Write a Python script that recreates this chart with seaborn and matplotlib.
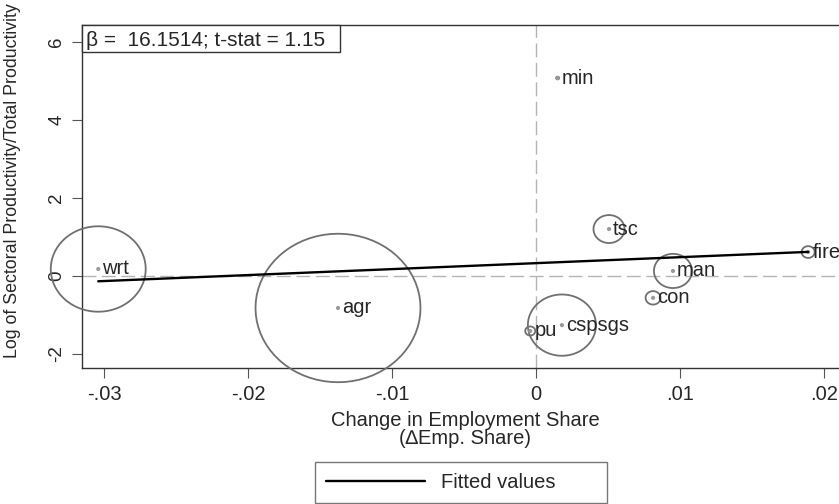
import numpy as np
import pandas as pd
import matplotlib
matplotlib.use("Agg")
import matplotlib.pyplot as plt
from matplotlib.path import Path
from matplotlib.patches import Rectangle
import seaborn as sns

# ---- data ----
sectors = ["wrt", "agr", "min", "tsc", "fire", "man", "con", "cspsgs", "pu"]
d_emp_share = [-0.0304, -0.01375, 0.0015, 0.00507, 0.0189, 0.00951, 0.00813, 0.0018, -0.0004]
log_rel_prod = [0.18, -0.82, 5.08, 1.205, 0.615, 0.13, -0.56, -1.26, -1.41]
emp_weight = [0.206, 0.622, 0.0002, 0.022, 0.0039, 0.033, 0.0051, 0.106, 0.0023]
fit_intercept = 0.33
fit_slope = 15.3
beta_text = "β =  16.1514; t-stat = 1.15"
xticks = [-0.03, -0.02, -0.01, 0.0, 0.01, 0.02]
xticklabels = ["-.03", "-.02", "-.01", "0", ".01", ".02"]
yticks = [-2, 0, 2, 4, 6]
yticklabels = ["-2", "0", "2", "4", "6"]

df = pd.DataFrame({"sector": sectors, "x": d_emp_share, "y": log_rel_prod, "w": emp_weight})
# marker area proportional to weight (largest -> ~165 px wide)
area_scale = (0.72 * 165) ** 2 / max(emp_weight)
df["s"] = df["w"] * area_scale

sns.set_theme(style="white")
plt.rcParams["font.family"] = ["Liberation Sans", "DejaVu Sans"]

FS = 14.5
TXT = "#262626"

fig = plt.figure(figsize=(8.39, 5.04), dpi=100)
W, H = 839, 504
ax_l, ax_r, ax_t, ax_b = 82, 848, 25, 368
ax = fig.add_axes([ax_l / W, 1 - ax_b / H, (ax_r - ax_l) / W, (ax_b - ax_t) / H])

# slightly squashed hollow circle (reference is vertically compressed)
t = np.linspace(0, 2 * np.pi, 73)
ell = Path(np.column_stack([np.cos(t), 0.9 * np.sin(t)]))

ax.axvline(0, color="#b4b4b4", lw=1.0, dashes=(10, 4), zorder=1)
ax.axhline(0, color="#b4b4b4", lw=1.0, dashes=(10, 4), zorder=1)

sns.scatterplot(data=df, x="x", y="y", s=df["s"].values, marker=ell,
                facecolors="none", edgecolor="#707070", linewidth=1.3,
                legend=False, ax=ax, zorder=3, clip_on=False)
sns.scatterplot(data=df, x="x", y="y", s=9, color="#9a9a9a", edgecolor="none",
                legend=False, ax=ax, zorder=4, clip_on=False)

for _, r in df.iterrows():
    ax.annotate(r["sector"], (r["x"], r["y"]), xytext=(3, 0), textcoords="offset points",
                ha="left", va="center", fontsize=FS, color=TXT, zorder=5,
                annotation_clip=False)

xs = np.array([min(d_emp_share), max(d_emp_share)])
fit = pd.DataFrame({"x": xs, "y": fit_intercept + fit_slope * xs})
sns.lineplot(data=fit, x="x", y="y", color="black", lw=1.7, ax=ax, zorder=6,
             label="Fitted values", legend=False)

ax.set_xlim((82 - 536) / 14400, (848 - 536) / 14400)
ax.set_ylim(-2.36, 6.44)
ax.set_xticks(xticks)
ax.set_xticklabels(xticklabels)
ax.set_yticks(yticks)
ax.set_yticklabels(yticklabels, rotation=90, va="center")
ax.tick_params(axis="both", which="major", direction="out", length=7, width=0.8,
               color="#555555", labelsize=FS, labelcolor=TXT, pad=5,
               bottom=True, left=True)
ax.tick_params(axis="y", labelsize=13.5)
for side in ["left", "bottom", "top"]:
    ax.spines[side].set_color("#333333")
    ax.spines[side].set_linewidth(1.0)
ax.spines["right"].set_visible(False)

ax.set_xlabel("Change in Employment Share\n(∆Emp. Share)", fontsize=FS, color=TXT,
              linespacing=0.95, labelpad=5)
ax.set_ylabel("Log of Sectoral Productivity/Total Productivity", fontsize=12.8,
              color=TXT)
ax.yaxis.set_label_coords((21 - ax_l) / (ax_r - ax_l), (ax_b - 181) / (ax_b - ax_t))

# annotation box (upper-left corner of the plot region)
box_w = (340 - ax_l) / (ax_r - ax_l)
box_h = (52 - ax_t) / (ax_b - ax_t)
ax.add_patch(Rectangle((0, 1 - box_h), box_w, box_h, transform=ax.transAxes,
                       facecolor="white", edgecolor="#333333", lw=1.0, zorder=7,
                       clip_on=False))
ax.text((86 - ax_l) / (ax_r - ax_l), 1 - box_h / 2, beta_text, transform=ax.transAxes,
        ha="left", va="center_baseline", fontsize=15, color=TXT, zorder=8)

h, l = ax.get_legend_handles_labels()
leg = fig.legend(h, l, loc="upper left",
                 bbox_to_anchor=(315 / W, 1 - 462 / H, (607 - 315) / W, 0.0),
                 mode="expand", fontsize=FS, frameon=True, fancybox=False,
                 handlelength=4.9, handletextpad=0.8, borderpad=0.55, borderaxespad=0)
leg.get_frame().set_edgecolor("#555555")
leg.get_frame().set_linewidth(1.0)
for txt in leg.get_texts():
    txt.set_color(TXT)

fig.savefig("out.png", dpi=100)
